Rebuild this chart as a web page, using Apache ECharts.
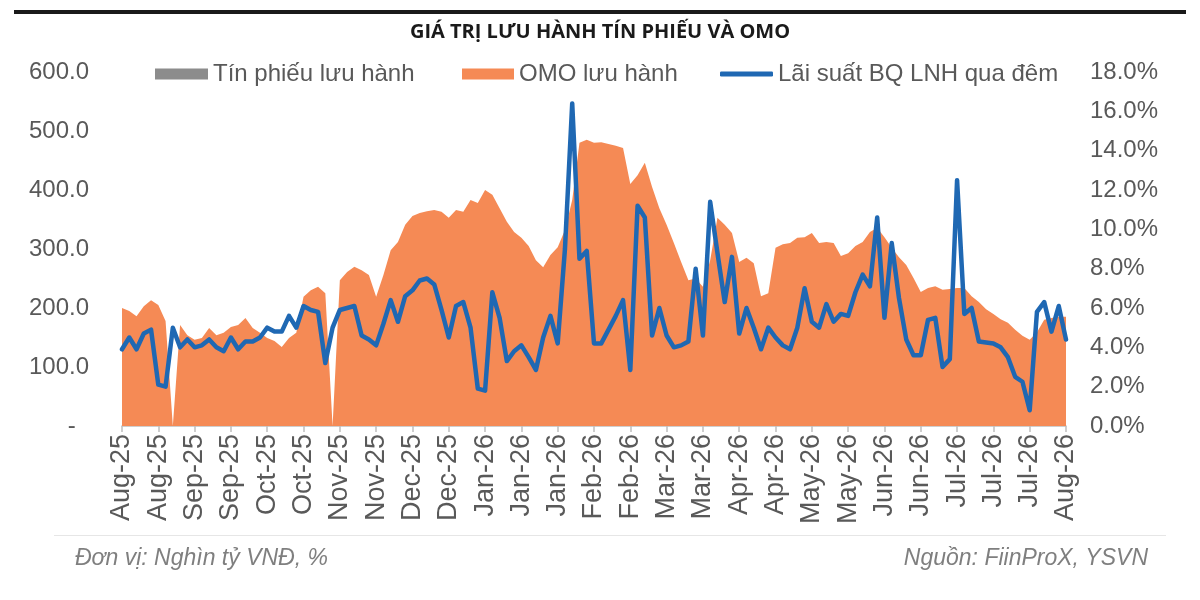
<!DOCTYPE html>
<html>
<head>
<meta charset="utf-8">
<script src="https://cdn.jsdelivr.net/npm/echarts@6/dist/echarts.min.js"></script>
<style>
html,body{margin:0;padding:0;background:#fff;}
#c{width:1200px;height:600px;}
</style>
</head>
<body>
<div id="c"></div>
<script>
// Bi-weekly tick labels (every 5th observation)
const tickLabels = ["Aug-25","Aug-25","Sep-25","Sep-25","Oct-25","Oct-25","Nov-25","Nov-25","Dec-25","Dec-25","Jan-26","Jan-26","Jan-26","Feb-26","Feb-26","Mar-26","Mar-26","Apr-26","Apr-26","May-26","May-26","Jun-26","Jun-26","Jul-26","Jul-26","Jul-26","Aug-26"];

// OMO outstanding (thousand bn VND)
const omo = [200,195,186,203,213,205,178,0,171,154,
146,149,166,154,158,168,171,183,166,158,
149,144,134,149,158,219,230,236,225,0,
247,261,270,264,256,219,256,298,312,341,
356,361,364,366,363,353,366,363,383,378,
400,392,369,346,329,319,305,281,269,290,
303,332,383,480,485,480,481,478,475,471,
410,425,446,405,369,341,310,278,247,250,
236,281,353,341,327,278,285,276,220,225,
302,308,310,319,320,327,310,312,310,288,
293,305,312,329,336,320,302,286,273,251,
227,234,237,231,232,234,234,220,210,198,
190,181,175,163,153,146,159,180,183,185,185];

// Treasury bills outstanding (not visible in the period)
const tinPhieu = [];

// Average overnight interbank rate (%)
const rate = [3.9,4.5,3.9,4.7,4.9,2.1,2.0,5.0,4.0,4.4,
4.0,4.1,4.4,4.0,3.8,4.5,3.9,4.3,4.3,4.5,
5.0,4.8,4.8,5.6,5.0,6.1,5.9,5.8,3.2,5.0,
5.9,6.0,6.1,4.6,4.4,4.1,5.2,6.4,5.3,6.6,
6.9,7.4,7.5,7.2,5.9,4.5,6.1,6.3,5.0,1.9,
1.8,6.8,5.5,3.3,3.8,4.1,3.5,2.85,4.5,5.6,
4.2,9.0,16.4,8.5,8.9,4.2,4.2,4.9,5.6,6.4,
2.85,11.2,10.6,4.6,6.0,4.6,4.0,4.1,4.3,8.0,
4.6,11.4,8.8,6.3,8.6,4.7,6.0,5.0,3.9,5.0,
4.5,4.1,3.9,5.0,7.0,5.3,5.0,6.2,5.3,5.7,
5.6,6.8,7.7,7.1,10.6,5.5,9.3,6.5,4.4,3.6,
3.6,5.4,5.5,3.0,3.4,12.5,5.7,6.0,4.3,4.25,
4.2,4.0,3.5,2.5,2.25,0.8,5.8,6.3,4.8,6.1,4.4];

const leftTicks = {min:0, max:600, interval:100};
const rightTicks = {min:0, max:18, interval:2};

const categories = omo.map((_, i) => tickLabels[Math.floor(i/5)] + '#' + i);

const ORANGE = '#F58A55';
const BLUE = '#1F68B3';
const GREY = '#8C8C8C';
const TXT = '#595959';
const FONT = 'Arial, "Liberation Sans", sans-serif';

const chart = echarts.init(document.getElementById('c'));
chart.setOption({
  animation: false,
  backgroundColor: '#ffffff',
  grid: {left:122, right:134, top:72, bottom:174, outerBoundsMode:'none', containLabel:false},
  legend: [
    {left:150, top:57, itemWidth:53, itemHeight:11, icon:'rect', data:[{name:'Tín phiếu lưu hành', itemStyle:{color:GREY}}], textStyle:{color:TXT, fontSize:24, fontFamily:FONT}, selectedMode:false},
    {left:457, top:57, itemWidth:52, itemHeight:11, icon:'rect', data:[{name:'OMO lưu hành', itemStyle:{color:ORANGE}}], textStyle:{color:TXT, fontSize:24, fontFamily:FONT}, selectedMode:false},
    {left:715, top:57, itemWidth:53, itemHeight:5, icon:'roundRect', data:[{name:'Lãi suất BQ LNH qua đêm', itemStyle:{color:BLUE}}], textStyle:{color:TXT, fontSize:24, fontFamily:FONT}, selectedMode:false}
  ],
  xAxis: {
    type:'category', data:categories, boundaryGap:false,
    axisLine:{lineStyle:{color:'#BFBFBF', width:1.5}},
    axisTick:{interval:4, length:6, lineStyle:{color:'#BFBFBF', width:1.5}},
    axisLabel:{interval:4, rotate:90, margin:8, color:TXT, fontSize:27, fontFamily:FONT,
      formatter: v => v.split('#')[0]},
    splitLine:{show:false}
  },
  yAxis: [
    {type:'value', min:leftTicks.min, max:leftTicks.max, interval:leftTicks.interval,
     axisLine:{show:false}, axisTick:{show:false}, splitLine:{show:false},
     axisLabel:{margin:33, color:TXT, fontSize:24, fontFamily:FONT,
       formatter: v => v === 0 ? '-  ' : v.toFixed(1)}},
    {type:'value', min:rightTicks.min, max:rightTicks.max, interval:rightTicks.interval,
     axisLine:{show:false}, axisTick:{show:false}, splitLine:{show:false},
     axisLabel:{margin:24, color:TXT, fontSize:24, fontFamily:FONT,
       formatter: v => v.toFixed(1) + '%'}}
  ],
  series: [
    {name:'Tín phiếu lưu hành', type:'line', stack:'s', data:tinPhieu, symbol:'none',
     lineStyle:{width:0}, areaStyle:{color:GREY, opacity:1}, itemStyle:{color:GREY}},
    {name:'OMO lưu hành', type:'line', data:omo, symbol:'none',
     lineStyle:{width:0}, areaStyle:{color:ORANGE, opacity:1}, itemStyle:{color:ORANGE}},
    {name:'Lãi suất BQ LNH qua đêm', type:'line', yAxisIndex:1, data:rate, symbol:'none',
     lineStyle:{width:4.5, color:BLUE, cap:'round', join:'round'}, itemStyle:{color:BLUE}, z:5}
  ],
  graphic: [
    {type:'rect', shape:{x:14, y:10, width:1172, height:4}, style:{fill:'#1a1a1a'}},
    {type:'text', style:{text:'GIÁ TRỊ LƯU HÀNH TÍN PHIẾU VÀ OMO', x:600, y:32, align:'center', verticalAlign:'middle',
      font:'bold 20px "Open Sans", "Noto Sans", sans-serif', fill:'#1a1a1a'}},
    {type:'rect', shape:{x:54, y:535, width:1112, height:1}, style:{fill:'#E6E6E6'}},
    {type:'text', style:{text:'Đơn vị: Nghìn tỷ VNĐ, %', x:75, y:559, align:'left', verticalAlign:'middle',
      font:'italic 23px Arial, "Liberation Sans", sans-serif', fill:'#7F7F7F'}},
    {type:'text', style:{text:'Nguồn: FiinProX, YSVN', x:1148, y:559, align:'right', verticalAlign:'middle',
      font:'italic 23px Arial, "Liberation Sans", sans-serif', fill:'#7F7F7F'}}
  ]
});
</script>
</body>
</html>
